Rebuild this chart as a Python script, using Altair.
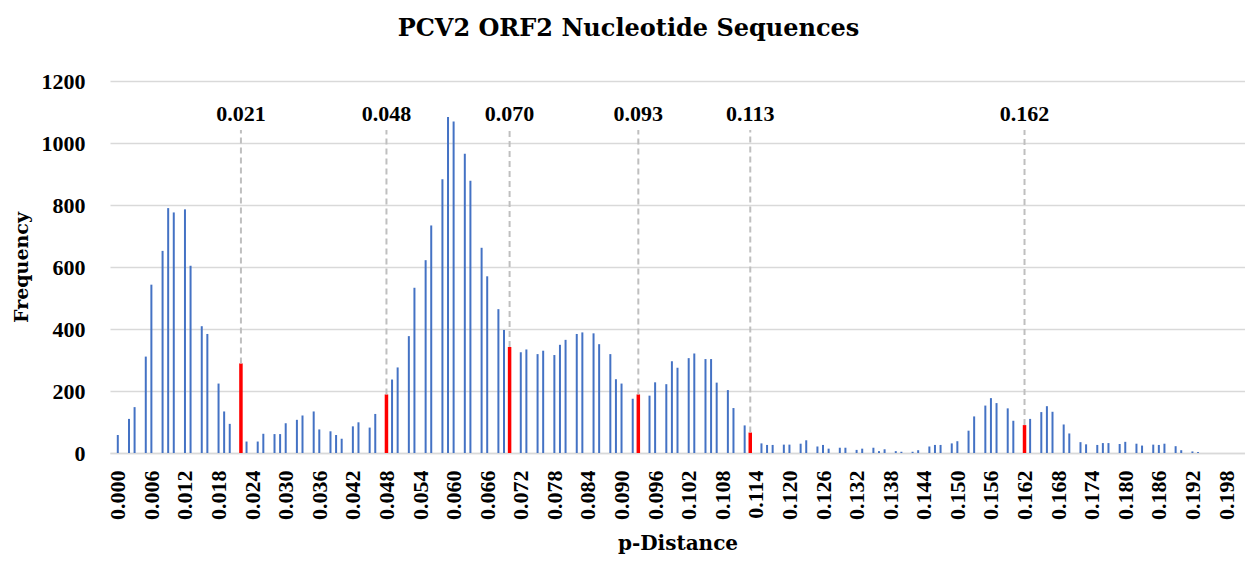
import altair as alt
import pandas as pd

# p-distance bin index (x 0.001) and frequencies
bin_index = [0, 2, 3, 5, 6, 8, 9, 10, 12, 13, 15, 16, 18, 19, 20, 22, 23, 25, 26, 28,
             29, 30, 32, 33, 35, 36, 38, 39, 40, 42, 43, 45, 46, 48, 49, 50, 52, 53, 55, 56,
             58, 59, 60, 62, 63, 65, 66, 68, 69, 70, 72, 73, 75, 76, 78, 79, 80, 82, 83, 85,
             86, 88, 89, 90, 92, 93, 95, 96, 98, 99, 100, 102, 103, 105, 106, 107, 109, 110, 112, 113,
             115, 116, 117, 119, 120, 122, 123, 125, 126, 127, 129, 130, 132, 133, 135, 136, 137, 139, 140, 142,
             143, 145, 146, 147, 149, 150, 152, 153, 155, 156, 157, 159, 160, 162, 163, 165, 166, 167, 169, 170,
             172, 173, 175, 176, 177, 179, 180, 182, 183, 185, 186, 187, 189, 190, 192, 193]
frequency = [58, 110, 148, 311, 543, 652, 790, 776, 786, 604, 409, 384, 224, 134, 94, 289, 37, 37, 62, 61,
             61, 96, 107, 121, 134, 76, 70, 58, 46, 86, 99, 82, 126, 189, 237, 276, 377, 533, 622, 734,
             883, 1084, 1069, 965, 878, 662, 570, 464, 397, 342, 325, 334, 319, 330, 316, 349, 365, 384, 389, 386,
             351, 319, 238, 224, 175, 189, 185, 228, 222, 296, 275, 306, 321, 303, 303, 227, 203, 145, 89, 66,
             31, 26, 26, 27, 27, 30, 41, 21, 26, 14, 17, 17, 10, 14, 17, 6, 12, 6, 4, 4,
             9, 21, 26, 26, 31, 38, 72, 118, 153, 177, 161, 144, 104, 90, 110, 132, 151, 133, 92, 63,
             35, 28, 26, 32, 32, 29, 36, 30, 24, 27, 26, 30, 22, 9, 5, 3]

# highlighted bins and their annotation labels
highlight_index = [22, 48, 70, 93, 113, 162]
highlight_label = ["0.021", "0.048", "0.070", "0.093", "0.113", "0.162"]

tick_values = [round(i * 0.006, 3) for i in range(34)]
y_ticks = [0, 200, 400, 600, 800, 1000, 1200]

df = pd.DataFrame({"d": [i / 1000 for i in bin_index], "freq": frequency,
                   "hl": [i in highlight_index for i in bin_index]})
fmap = dict(zip(bin_index, frequency))
ann = pd.DataFrame({"d": [i / 1000 for i in highlight_index],
                    "freq": [fmap[i] for i in highlight_index],
                    "label": highlight_label})

LAB_FONT = "Liberation Serif"
TTL_FONT = "DejaVu Serif"

xscale = alt.Scale(domain=[-0.0005, 0.2005], nice=False, zero=False)
yscale = alt.Scale(domain=[0, 1200], nice=False)

x_enc = alt.X("d:Q", scale=xscale, title="p-Distance",
              axis=alt.Axis(values=tick_values, format=".3f", labelAngle=270,
                            labelFont=LAB_FONT, labelFontSize=22, labelFontWeight="bold",
                            labelColor="black", labelPadding=17, labelOverlap=False,
                            labelFlush=False, ticks=False, tickSize=0, grid=False,
                            domainColor="#D9D9D9", domainWidth=1.5,
                            titleFont=TTL_FONT, titleFontSize=20, titleFontWeight="bold",
                            titleColor="black", titlePadding=14))
y_enc = alt.Y("freq:Q", scale=yscale, title="Frequency",
              axis=alt.Axis(values=y_ticks, format="d", grid=True, gridColor="#D9D9D9", gridWidth=1.3,
                            domain=False, ticks=False, tickSize=0,
                            labelFont=LAB_FONT, labelFontSize=22, labelFontWeight="bold",
                            labelColor="black", labelPadding=25,
                            titleFont=TTL_FONT, titleFontSize=19, titleFontWeight="bold",
                            titleColor="black", titlePadding=10))

base = alt.Chart(df)
blue = base.transform_filter("!datum.hl").mark_bar(size=2, color="#4472C4").encode(x=x_enc, y=y_enc)
red = base.transform_filter("datum.hl").mark_bar(size=3.5, color="#FF0000").encode(x=x_enc, y=y_enc)

rules = alt.Chart(ann).mark_rule(color="#BFBFBF", strokeWidth=2, strokeDash=[6, 4]).encode(
    x=x_enc, y=y_enc, y2=alt.datum(1042))
texts = alt.Chart(ann).mark_text(font=LAB_FONT, fontSize=22, fontWeight="bold", color="black",
                                 baseline="alphabetic", align="center").encode(
    x=x_enc, y=alt.datum(1071), text="label:N")

chart = alt.layer(blue, red, rules, texts).properties(
    width=1237, height=546,
    autosize=alt.AutoSizeParams(type="fit", contains="padding"),
    padding={"left": 4, "top": 9, "right": 0, "bottom": 0},
    title=alt.TitleParams("PCV2 ORF2 Nucleotide Sequences", font=TTL_FONT, fontSize=24,
                          fontWeight="bold", color="black", anchor="middle", frame="bounds",
                          offset=29),
).configure_view(stroke=None).configure_axisX(labelOverlap=False)

chart.save("out.html", embed_options={"renderer": "svg", "actions": False})
